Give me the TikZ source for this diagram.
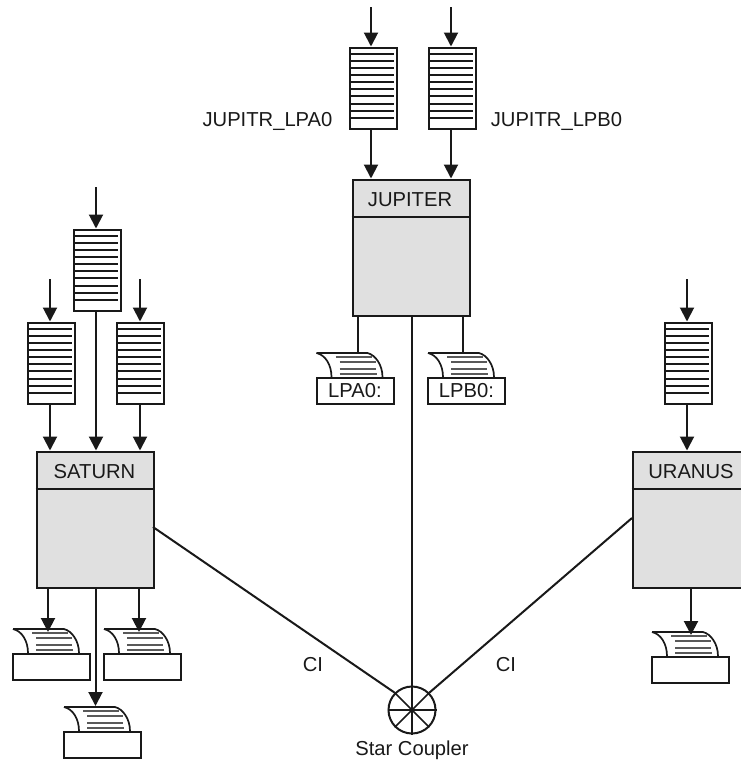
\documentclass[tikz,border=0pt]{standalone}
\usepackage{fontspec}
\setmainfont{Liberation Sans}
\usetikzlibrary{arrows.meta,calc}
\tikzset{
  every node/.style={font=\fontsize{20.2}{23}\selectfont,text=black!90},
  wire/.style={line width=2pt,draw=black!90},
  arr/.style={wire,-{Triangle[length=14pt,width=14pt]}},
  thinwire/.style={line width=2pt,draw=black!90},
  qbox/.style={draw=black!90,line width=2pt,fill=white,minimum width=47pt,minimum height=81pt,inner sep=0pt,anchor=north west},
  sysbox/.style={draw=black!90,line width=2.2pt,fill=black!12,minimum width=117pt,minimum height=136pt,inner sep=0pt,anchor=north west},
  prbox/.style={draw=black!90,line width=2pt,fill=white,minimum width=77pt,minimum height=26pt,inner sep=0pt,anchor=north west},
  paper/.style={line width=1.7pt,draw=black!90},
  pline/.style={line width=1.2pt,draw=black!65},
  starc/.style={circle,draw=black!90,line width=2pt,minimum size=47pt,inner sep=0pt}
}
% name, left x, top y
\newcommand{\queuebox}[3]{%
  \node[qbox] (#1) at (#2,#3) {};
  \foreach \k in {0,...,9} {
    \draw[line width=2pt,draw=black!90] ($(#2+2,#3+7.3+7.1*\k)$) -- ($(#2+45,#3+7.3+7.1*\k)$);
  }
}
% name, left x, box top y, text
\newcommand{\printerbox}[4]{%
  \node[prbox] (#1) at (#2,#3) {#4};
  \begin{scope}[shift={(#2,#3)}]
    \draw[paper] (1,-24) -- (52,-24) .. controls (60,-22) and (67,-12) .. (67,0);
    \draw[paper] (1,-24) .. controls (10,-22) and (16,-12) .. (16,0);
    \draw[pline] (20,-20) -- (56,-20);
    \draw[pline] (24,-15) -- (60,-15);
    \draw[pline] (24,-8) -- (60,-8);
    \draw[pline] (24,-3) -- (61,-3);
  \end{scope}
}
\begin{document}
\begin{tikzpicture}[x=1pt,y=-1pt]
\useasboundingbox (0,0) rectangle (740,761);
% systems
\node[sysbox] (jup) at (351.5,178.5) {};
\node[sysbox] (sat) at (35.5,450.5) {};
\node[sysbox] (ura) at (631.5,450.5) {};
\draw[thinwire] (jup.west |- 0,217) -- (jup.east |- 0,217);
\draw[thinwire] (sat.west |- 0,489) -- (sat.east |- 0,489);
\draw[thinwire] (ura.west |- 0,489) -- (ura.east |- 0,489);
\node (jupt) at (410,199.5) {JUPITER};
\node (satt) at (94.5,472) {SATURN};
\node (urat) at (691,472) {URANUS};
% queues
\queuebox{qa}{348.5}{46.5}
\queuebox{qb}{427.5}{46.5}
\queuebox{qm}{72.5}{228.5}
\queuebox{ql}{26.5}{321.5}
\queuebox{qr}{115.5}{321.5}
\queuebox{qu}{663.5}{321.5}
% free ends
\coordinate (ia) at (371,7);
\coordinate (ib) at (451,7);
\coordinate (im) at (96,187);
\coordinate (il) at (50,279);
\coordinate (ir) at (140,279);
\coordinate (iu) at (687,279);
\draw[arr] (ia) -- (ia |- qa.north);
\draw[arr] (ib) -- (ib |- qb.north);
\draw[arr] (im) -- (im |- qm.north);
\draw[arr] (il) -- (il |- ql.north);
\draw[arr] (ir) -- (ir |- qr.north);
\draw[arr] (iu) -- (iu |- qu.north);
\draw[arr] (ia |- qa.south) -- (ia |- jup.north);
\draw[arr] (ib |- qb.south) -- (ib |- jup.north);
\draw[arr] (im |- qm.south) -- (im |- sat.north);
\draw[arr] (il |- ql.south) -- (il |- sat.north);
\draw[arr] (ir |- qr.south) -- (ir |- sat.north);
\draw[arr] (iu |- qu.south) -- (iu |- ura.north);
% printers
\printerbox{pa}{315.5}{377}{LPA0:}
\printerbox{pb}{427}{377}{LPB0:}
\printerbox{ps}{12}{653}{}
\printerbox{pt}{103}{653}{}
\printerbox{pv}{63}{731}{}
\printerbox{pu}{651}{656}{}
\coordinate (da) at (358,353);
\coordinate (db) at (462.5,353);
\coordinate (ds) at (48,632);
\coordinate (dt) at (139,632);
\coordinate (dv) at (95.5,706);
\coordinate (du) at (691,635);
\draw[wire] (da |- jup.south) -- (da);
\draw[wire] (db |- jup.south) -- (db);
\draw[arr] (ds |- sat.south) -- (ds);
\draw[arr] (dt |- sat.south) -- (dt);
\draw[arr] (dv |- sat.south) -- (dv);
\draw[arr] (du |- ura.south) -- (du);
% star coupler
\node[starc] (star) at (412,710) {};
\foreach \a in {0,45,...,315} { \draw[line width=1.6pt,draw=black!90] (star.center) -- (star.\a); }
\fill[black!90] (star.center) circle (2.2);
\draw[wire] (412,315) -- (star.north);
\draw[wire] (153,527) -- (star.135);
\draw[wire] (632,518) -- (star.45);
% labels
\node (la) at (267.5,121) {JUPITR\_LPA0};
\node (lb) at (556.5,121) {JUPITR\_LPB0};
\node (c1) at (313,665) {CI};
\node (c2) at (506,665) {CI};
\node (sc) at (412,750) {Star Coupler};
\end{tikzpicture}
\end{document}
